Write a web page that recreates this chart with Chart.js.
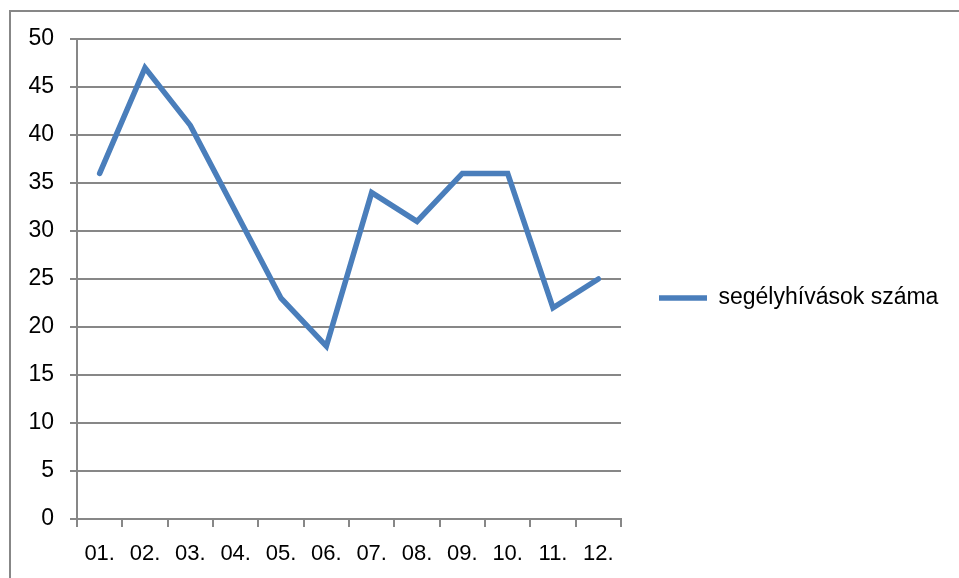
<!DOCTYPE html>
<html>
<head>
<meta charset="utf-8">
<script src="https://cdn.jsdelivr.net/npm/chart.js@4"></script>
<style>
  html, body { margin: 0; padding: 0; background: #fff; }
  #wrap { position: relative; width: 959px; height: 578px; overflow: hidden; }
  #frame { position: absolute; left: 9px; top: 10px; width: 980px; height: 600px;
           border-top: 2px solid #878787; border-left: 2px solid #878787; box-sizing: border-box; }
  canvas { position: absolute; left: 0; top: 0; }
</style>
</head>
<body>
<div id="wrap">
  <div id="frame"></div>
  <canvas id="chart" width="959" height="578"></canvas>
</div>
<script>
// months and the number of emergency calls
const months = ["01.", "02.", "03.", "04.", "05.", "06.", "07.", "08.", "09.", "10.", "11.", "12."];
const calls = [36, 47, 41, 32, 23, 18, 34, 31, 36, 36, 22, 25];
const seriesName = "segélyhívások száma";

const BLUE = "#4A7EBB";
const GREY = "#878787";
const FONT = "'Liberation Sans', Arial, sans-serif";

// legend box: fixed width, shifted up a bit so it sits where Excel puts it
const legendFix = {
  id: "legendFix",
  afterInit(chart){
    const legend = chart.legend;
    const fit = legend.fit;
    legend.fit = function(){ fit.call(this); this.width = 338; };
  },
  afterLayout(chart){
    chart.legend.top = 18;
  }
};

new Chart(document.getElementById("chart"), {
  type: "line",
  data: {
    labels: months,
    datasets: [{
      label: seriesName,
      data: calls,
      borderColor: BLUE,
      backgroundColor: BLUE,
      borderWidth: 5.5,
      borderCapStyle: "round",
      borderJoinStyle: "miter",
      pointRadius: 0,
      pointStyle: "line",
      tension: 0,
      fill: false
    }]
  },
  options: {
    responsive: false,
    animation: false,
    layout: { padding: { top: 39, right: 0, bottom: 0, left: 0 } },
    plugins: {
      tooltip: { enabled: false },
      legend: {
        position: "right",
        labels: {
          usePointStyle: true,
          pointStyleWidth: 48,
          padding: 38,
          color: "#000",
          font: { family: FONT, size: 23 }
        }
      }
    },
    scales: {
      x: {
        offset: true,
        grid: { offset: true, drawOnChartArea: false, drawTicks: true, tickLength: 8, color: GREY, lineWidth: 2 },
        border: { color: GREY, width: 2 },
        ticks: { color: "#000", font: { family: FONT, size: 22 }, padding: 14, maxRotation: 0, autoSkip: false },
        afterFit(scale){ scale.height = 59; }
      },
      y: {
        min: 0,
        max: 50,
        grid: { color: GREY, lineWidth: 2, tickLength: 7 },
        border: { color: GREY, width: 2 },
        ticks: { stepSize: 5, color: "#000", font: { family: FONT, size: 23 }, padding: 16 },
        afterFit(scale){ scale.width = 77; }
      }
    }
  },
  plugins: [legendFix]
});
</script>
</body>
</html>
